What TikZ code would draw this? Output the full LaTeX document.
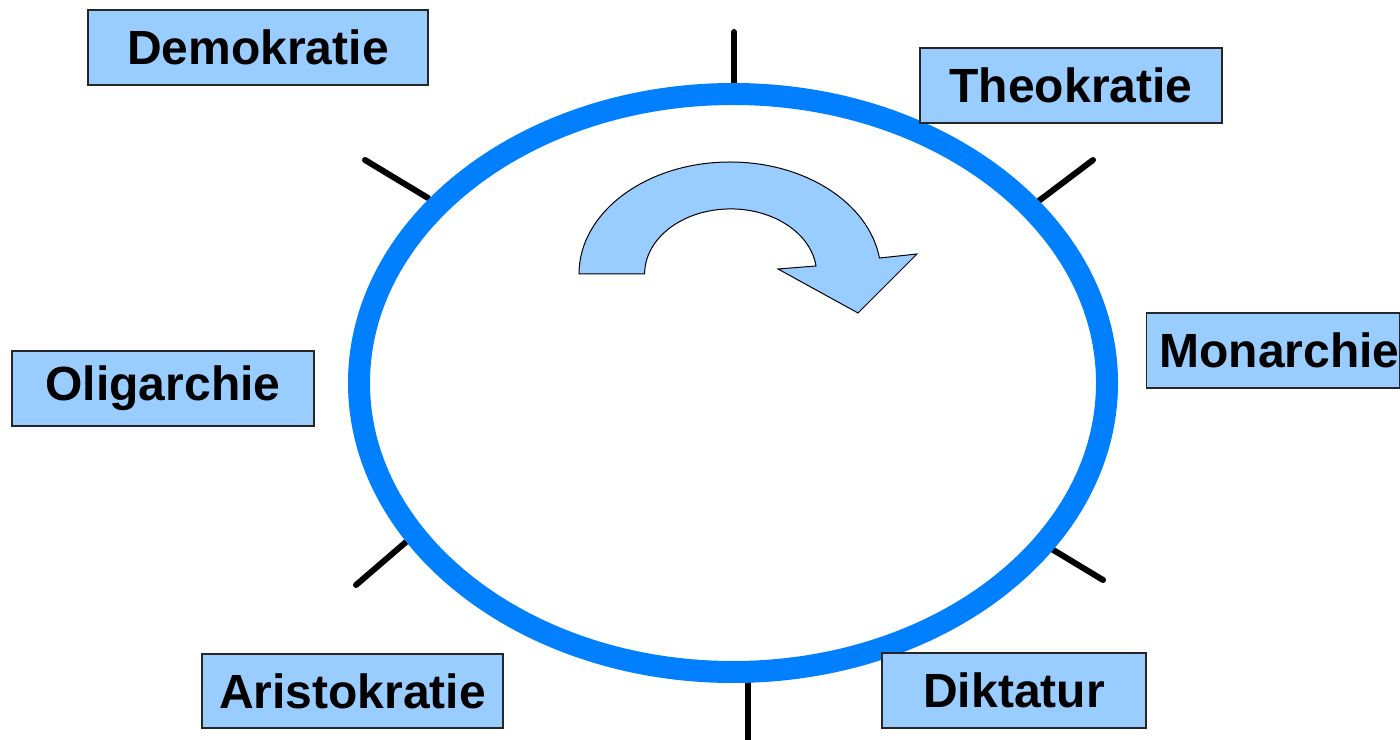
\documentclass[tikz,border=0pt]{standalone}
\usepackage{fontspec}
\usetikzlibrary{shapes.geometric}
\setmainfont{Liberation Sans}
\definecolor{ringblue}{HTML}{0080FF}
\definecolor{boxblue}{HTML}{99CCFF}
\begin{document}
\begin{tikzpicture}[x=0.5pt,y=0.5pt,
  label box/.style={draw=black!85, line width=0.6pt, fill=boxblue, inner sep=0pt,
    minimum height=37.5pt, font=\fontsize{24}{28}\selectfont\bfseries, text=black},
  tick/.style={line width=3pt, line cap=round, draw=black}]
\useasboundingbox (0,0) rectangle (1400,739);
\clip (0,0) rectangle (1400,739);
% ticks
\coordinate (t1a) at (734,707); \coordinate (t1b) at (734,654);
\coordinate (t2a) at (365,579); \coordinate (t2b) at (428,541);
\coordinate (t3a) at (1093,579); \coordinate (t3b) at (1036,536);
\coordinate (t4a) at (1103,159); \coordinate (t4b) at (1050,191);
\coordinate (t5a) at (356,154); \coordinate (t5b) at (406,197);
\coordinate (t6a) at (748,-5); \coordinate (t6b) at (748,59);
\foreach \i in {1,...,6} \draw[tick] (t\i a) -- (t\i b);
% ring
\node[draw=ringblue, line width=11pt, ellipse, minimum width=374pt, minimum height=289pt, inner sep=0pt] (ring) at (733,356) {};
% curved arrow
\draw[fill=boxblue, draw=black, line width=0.5pt]
  (579,465) arc[start angle=180, end angle=8.2, x radius=151, y radius=112]
  -- (917,485) -- (858,426) -- (778,470) -- (816,473)
  arc[start angle=7, end angle=180, x radius=86, y radius=65] -- cycle;
% labels
\node[label box, minimum width=170pt] (demo) at (258,691.5) {Demokratie};
\node[label box, minimum width=151pt] (theo) at (1071,653.5) {Theokratie};
\node[label box, anchor=west] (mon) at (1146,388.5) {\hspace{6.5pt}Monarchie\hspace{12pt}};
\node[label box, minimum width=151pt] (olig) at (163,350.5) {Oligarchie};
\node[label box, minimum width=150.5pt, minimum height=37pt] (aris) at (352.5,48) {Aristokratie};
\node[label box, minimum width=132pt] (dikt) at (1014,48.5) {Diktatur};
\end{tikzpicture}
\end{document}
